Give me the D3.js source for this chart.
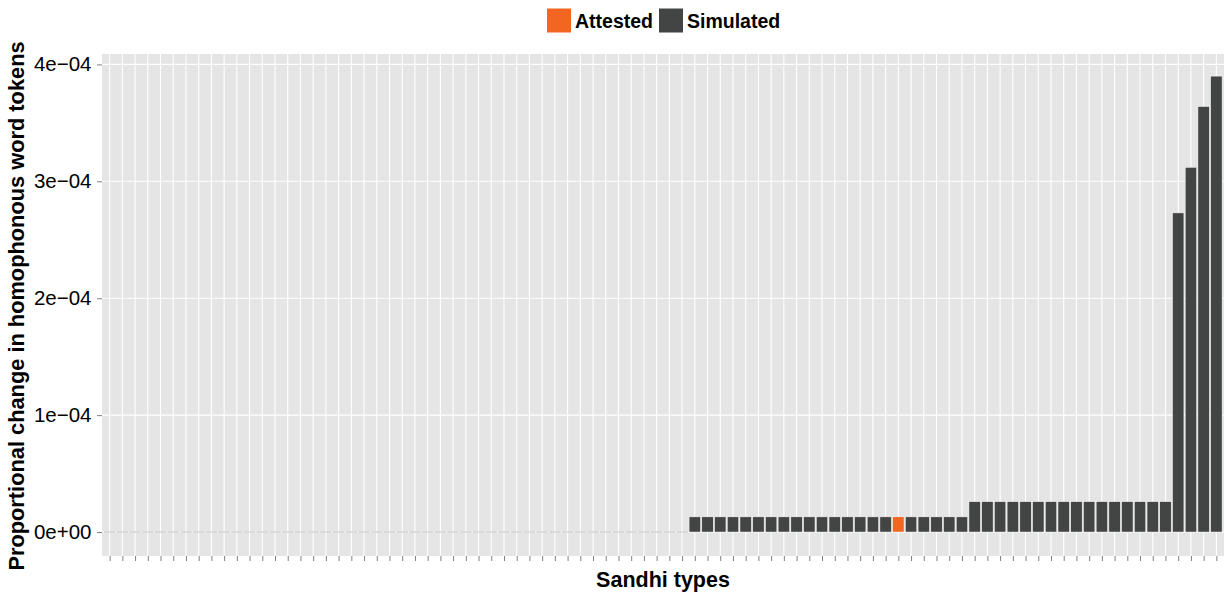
<!DOCTYPE html>
<html>
<head>
<meta charset="utf-8">
<script src="https://cdn.jsdelivr.net/npm/d3@7"></script>
<style>
  html, body { margin: 0; padding: 0; background: #ffffff; }
  svg { display: block; font-family: "Liberation Sans", Arial, Helvetica, sans-serif; }
</style>
</head>
<body>
<svg id="chart" width="1231" height="594"></svg>
<script>
// Sandhi types, ordered by the change they cause
const categories = [
  "T01","T02","T03","T04","T05","T06","T07","T08","T09","T10",
  "T11","T12","T13","T14","T15","T16","T17","T18","T19","T20",
  "T21","T22","T23","T24","T25","T26","T27","T28","T29","T30",
  "T31","T32","T33","T34","T35","T36","T37","T38","T39","T40",
  "T41","T42","T43","T44","T45","T46","T47","T48","T49","T50",
  "T51","T52","T53","T54","T55","T56","T57","T58","T59","T60",
  "T61","T62","T63","T64","T65","T66","T67","T68","T69","T70",
  "T71","T72","T73","T74","T75","T76","T77","T78","T79","T80",
  "T81","T82","T83","T84","T85","T86","T87","T88"
];

// Proportional change in homophonous word tokens
const values = [
  0,0,0,0,0,0,0,0,0,0,
  0,0,0,0,0,0,0,0,0,0,
  0,0,0,0,0,0,0,0,0,0,
  0,0,0,0,0,0,0,0,0,0,
  0,0,0,0,0,0,1.3e-5,1.3e-5,1.3e-5,1.3e-5,
  1.3e-5,1.3e-5,1.3e-5,1.3e-5,1.3e-5,1.3e-5,1.3e-5,1.3e-5,1.3e-5,1.3e-5,
  1.3e-5,1.3e-5,1.3e-5,1.3e-5,1.3e-5,1.3e-5,1.3e-5,1.3e-5,2.6e-5,2.6e-5,
  2.6e-5,2.6e-5,2.6e-5,2.6e-5,2.6e-5,2.6e-5,2.6e-5,2.6e-5,2.6e-5,2.6e-5,
  2.6e-5,2.6e-5,2.6e-5,2.6e-5,2.73e-4,3.12e-4,3.64e-4,3.90e-4
];

// Which sandhi types are attested; the rest are simulated
const attested = ["T63"];

const groups = ["Attested", "Simulated"];
const groupColors = ["#F36621", "#434544"];

const yTicks = [0, 1e-4, 2e-4, 3e-4, 4e-4];
const yTickLabels = ["0e+00", "1e\u221204", "2e\u221204", "3e\u221204", "4e\u221204"];

const data = categories.map((c, i) => ({
  type: c,
  value: values[i],
  group: attested.includes(c) ? "Attested" : "Simulated"
}));

const svg = d3.select("#chart");
const panel = { left: 102, right: 1224, top: 54, bottom: 556 };

const x = d3.scalePoint()
  .domain(categories)
  .range([panel.left, panel.right])
  .padding(0.6);
const barW = x.step() * 0.9;

const y = d3.scaleLinear()
  .domain([-0.205e-4, 4.089e-4])
  .range([panel.bottom, panel.top]);

const color = d3.scaleOrdinal().domain(groups).range(groupColors);

// panel background
svg.append("rect")
  .attr("x", panel.left).attr("y", panel.top)
  .attr("width", panel.right - panel.left)
  .attr("height", panel.bottom - panel.top)
  .attr("fill", "#E5E5E5");

// grid lines
const grid = svg.append("g");
grid.selectAll("line.h").data(yTicks).join("line")
  .attr("class", "h")
  .attr("x1", panel.left).attr("x2", panel.right)
  .attr("y1", d => y(d)).attr("y2", d => y(d))
  .attr("stroke", "#ffffff").attr("stroke-width", 1.1);
grid.selectAll("line.v").data(categories).join("line")
  .attr("class", "v")
  .attr("x1", d => x(d)).attr("x2", d => x(d))
  .attr("y1", panel.top).attr("y2", panel.bottom)
  .attr("stroke", "#ffffff").attr("stroke-width", 1.1);

// bars
const bars = svg.append("g");
bars.selectAll("rect").data(data.filter(d => d.value > 0)).join("rect")
  .attr("x", d => x(d.type) - barW / 2)
  .attr("width", barW)
  .attr("y", d => y(d.value))
  .attr("height", d => y(0) - y(d.value))
  .attr("fill", d => color(d.group))
  .attr("stroke", "#ffffff")
  .attr("stroke-width", 0.5);
// zero-height bars collapse to a faint outline at the baseline
bars.selectAll("line").data(data.filter(d => d.value === 0)).join("line")
  .attr("x1", d => x(d.type) - barW / 2)
  .attr("x2", d => x(d.type) + barW / 2)
  .attr("y1", y(0)).attr("y2", y(0))
  .attr("stroke", "#C4C4C4")
  .attr("stroke-width", 1);

// axes
const yAxis = d3.axisLeft(y)
  .tickValues(yTicks)
  .tickFormat((d, i) => yTickLabels[i])
  .tickSize(5).tickPadding(5.5);
const gy = svg.append("g")
  .attr("transform", `translate(${panel.left},0)`)
  .call(yAxis);
gy.select(".domain").remove();
gy.selectAll(".tick line").attr("stroke", "#7F7F7F");
gy.selectAll(".tick text")
  .attr("fill", "#000000")
  .style("font-size", "20.5px");

const xAxis = d3.axisBottom(x)
  .tickFormat("")
  .tickSize(5);
const gx = svg.append("g")
  .attr("transform", `translate(0,${panel.bottom})`)
  .call(xAxis);
gx.select(".domain").remove();
gx.selectAll(".tick line").attr("stroke", "#7F7F7F");

// axis titles
svg.append("text")
  .attr("x", (panel.left + panel.right) / 2)
  .attr("y", 587)
  .attr("text-anchor", "middle")
  .style("font-size", "21.5px")
  .style("font-weight", "bold")
  .text("Sandhi types");

svg.append("text")
  .attr("transform", `translate(24,${(panel.top + panel.bottom) / 2 + 1}) rotate(-90)`)
  .attr("text-anchor", "middle")
  .style("font-size", "21.8px")
  .style("font-weight", "bold")
  .text("Proportional change in homophonous word tokens");

// legend
const legend = svg.append("g");
const keyItems = [
  { label: groups[0], x: 547 },
  { label: groups[1], x: 659 }
];
keyItems.forEach(k => {
  legend.append("rect")
    .attr("x", k.x).attr("y", 8.5)
    .attr("width", 24).attr("height", 24)
    .attr("fill", color(k.label));
  legend.append("text")
    .attr("x", k.x + 28).attr("y", 27.5)
    .style("font-size", "19.5px")
    .style("font-weight", "bold")
    .text(k.label);
});
</script>
</body>
</html>
